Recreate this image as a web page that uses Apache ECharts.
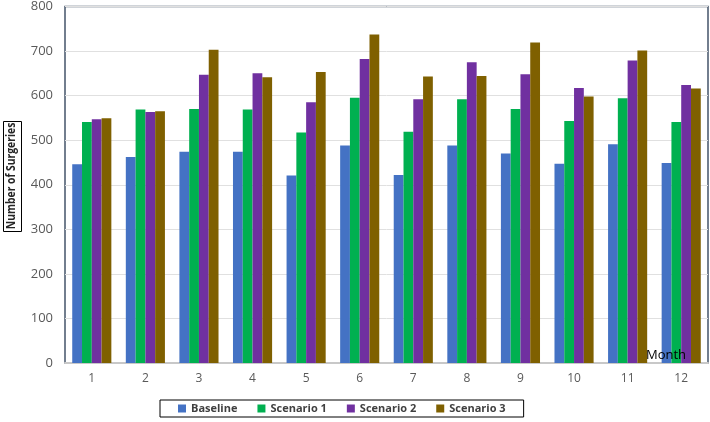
<!DOCTYPE html>
<html>
<head>
<meta charset="utf-8">
<script src="https://cdn.jsdelivr.net/npm/echarts@6/dist/echarts.min.js"></script>
<style>
	html, body { margin: 0; padding: 0; background: #fff; }
	#chart { width: 710px; height: 422px; }
</style>
</head>
<body>
<div id="chart"></div>
<script>
	// data
	var months = ['1', '2', '3', '4', '5', '6', '7', '8', '9', '10', '11', '12'];
	var seriesNames = ['Baseline', 'Scenario 1', 'Scenario 2', 'Scenario 3'];
	var baseline = [446, 462, 474, 474, 421, 488, 422, 488, 470, 447, 491, 449];
	var scenario1 = [541, 569, 570, 569, 517, 595, 519, 592, 570, 543, 594, 541];
	var scenario2 = [547, 563, 647, 650, 585, 682, 592, 675, 648, 617, 679, 624];
	var scenario3 = [549, 565, 703, 641, 653, 737, 643, 644, 719, 598, 701, 616];
	var colors = ['#4472C4', '#00B050', '#7030A0', '#7F6000'];

	var chart = echarts.init(document.getElementById('chart'));
	var font = 'Open Sans';

	var allData = [baseline, scenario1, scenario2, scenario3];
	var series = allData.map(function (d, i) {
		return {
			name: seriesNames[i],
			type: 'bar',
			data: d,
			barGap: 0,
			barCategoryGap: '27%',
			itemStyle: { color: colors[i] }
		};
	});

	var option = {
		animation: false,
		textStyle: { fontFamily: font },
		grid: {
			left: 65, right: 2, top: 4, bottom: 59,
			show: true,
			borderColor: '#44546A',
			borderWidth: 1.5
		},
		legend: {
			data: seriesNames,
			left: 160,
			top: 400,
			padding: [3, 18, 3, 18],
			itemGap: 20,
			itemWidth: 8,
			itemHeight: 8,
			icon: 'rect',
			borderColor: '#000',
			borderWidth: 1,
			textStyle: { color: '#404040', fontSize: 11, fontWeight: 'bold', fontFamily: font }
		},
		xAxis: {
			type: 'category',
			data: months,
			axisLine: { lineStyle: { color: '#c8c8c8', width: 2 } },
			axisTick: { show: false },
			axisLabel: { color: '#595959', fontSize: 12, margin: 10 }
		},
		yAxis: {
			type: 'value',
			min: 0,
			max: 800,
			interval: 100,
			axisLine: { show: false },
			axisTick: { show: false },
			axisLabel: { color: '#595959', fontSize: 13, margin: 12 },
			splitLine: { lineStyle: { color: '#e0e0e0', width: 1 } }
		},
		graphic: [
			{
				// box round the y axis title
				type: 'rect',
				left: 3,
				top: 121,
				shape: { width: 18, height: 110 },
				style: { fill: '#fff', stroke: '#000', lineWidth: 1 }
			},
			{
				type: 'text',
				x: 12,
				y: 176,
				rotation: Math.PI / 2,
				scaleX: 0.86,
				style: {
					text: 'Number of Surgeries',
					fill: '#262626',
					font: 'bold 12px "Open Sans"',
					align: 'center',
					verticalAlign: 'middle'
				}
			},
			{
				type: 'text',
				left: 646,
				top: 349,
				z: 100,
				style: {
					text: 'Month',
					fill: '#000',
					font: '13px "Open Sans"'
				}
			}
		],
		series: series
	};

	chart.setOption(option);
</script>
</body>
</html>
